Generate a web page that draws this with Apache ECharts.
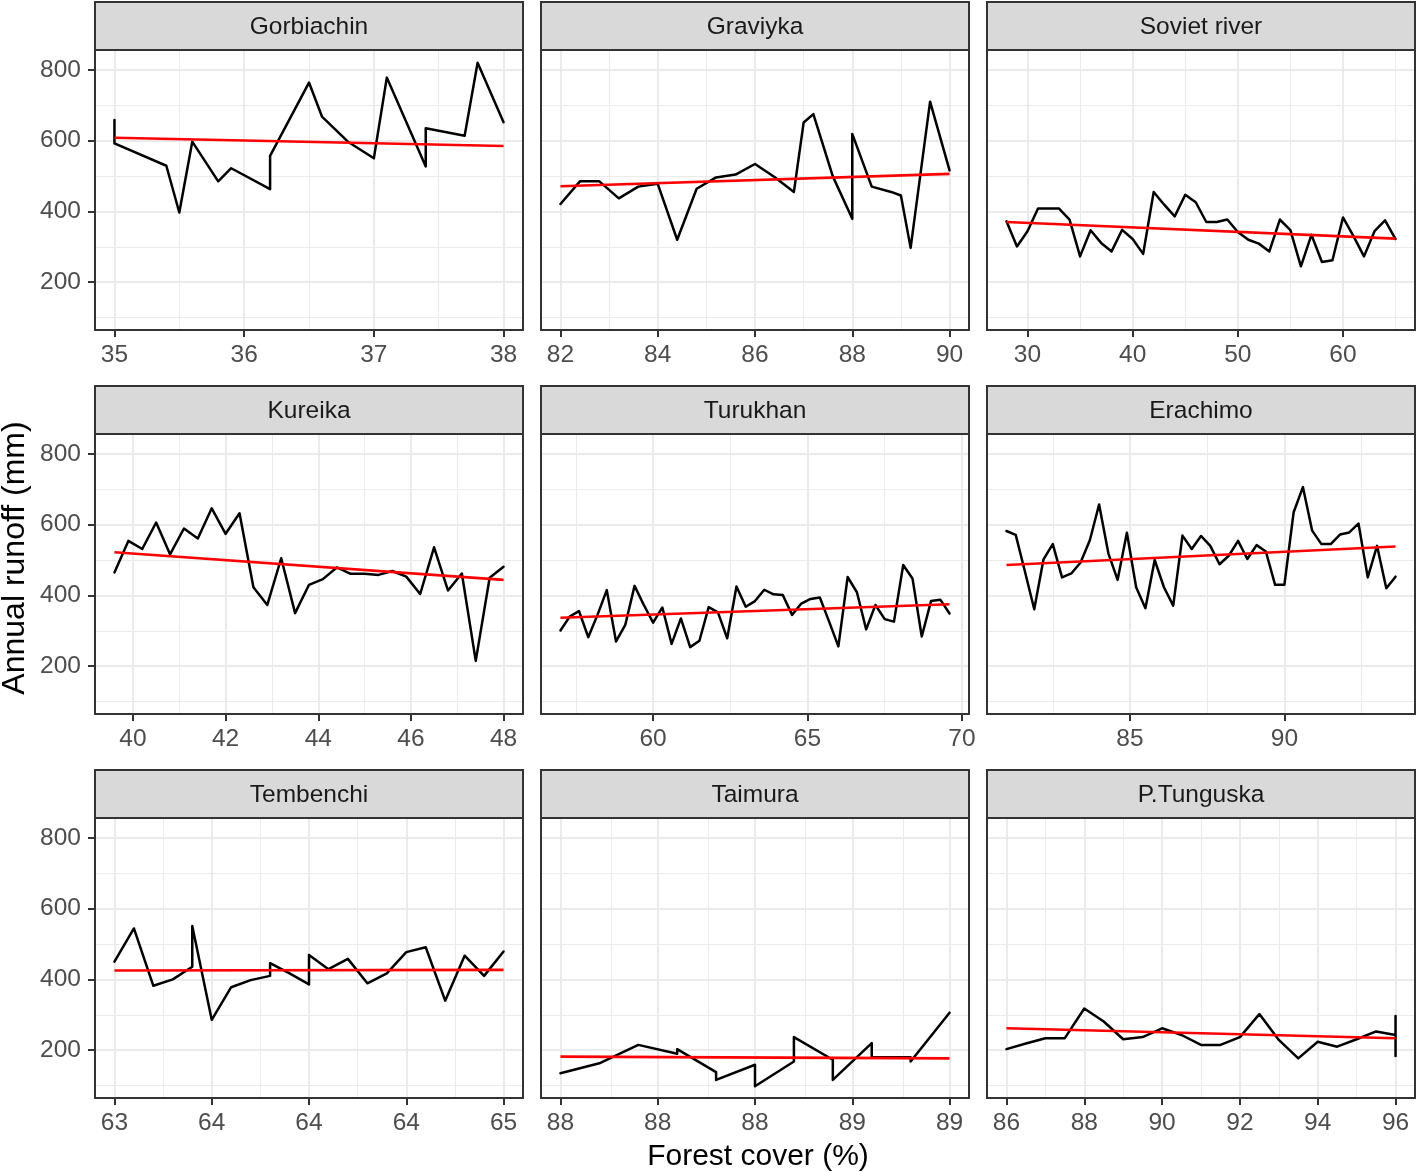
<!DOCTYPE html>
<html>
<head>
<meta charset="utf-8">
<script src="https://cdn.jsdelivr.net/npm/echarts@6/dist/echarts.min.js"></script>
<style>
html,body{margin:0;padding:0;background:#ffffff;}
#chart{width:1418px;height:1172px;}
</style>
</head>
<body>
<div id="chart"></div>
<script>
// ---------- DATA ----------
const panelNames = ["Gorbiachin", "Graviyka", "Soviet river", "Kureika", "Turukhan", "Erachimo", "Tembenchi", "Taimura", "P.Tunguska"];

const gorbiachinX = [35, 35, 35.4, 35.5, 35.6, 35.8, 35.9, 36.2, 36.2, 36.5, 36.6, 36.8, 37.0, 37.1, 37.4, 37.4, 37.7, 37.8, 38.0];
const gorbiachinY = [658, 592, 529, 397, 597, 485, 522, 463, 557, 764, 668, 597, 550, 778, 527, 635, 614, 820, 652];

const graviykaX = [82.0, 82.4, 82.8, 83.2, 83.6, 84.0, 84.4, 84.8, 85.2, 85.6, 86.0, 86.4, 86.8, 87.0, 87.2, 87.6, 88.0, 88.0, 88.4, 88.8, 89.0, 89.2, 89.6, 90.0];
const graviykaY = [421, 485, 485, 437, 470, 478, 320, 464, 496, 504, 534, 497, 455, 651, 675, 499, 379, 619, 470, 455, 445, 297, 710, 516];

const sovietX = [28, 29, 30, 31, 32, 33, 34, 35, 36, 37, 38, 39, 40, 41, 42, 43, 44, 45, 46, 47, 48, 49, 50, 51, 52, 53, 54, 55, 56, 57, 58, 59, 60, 61, 62, 63, 64, 65];
const sovietY = [372, 301, 344, 408, 408, 408, 377, 273, 347, 311, 287, 348, 322, 280, 455, 419, 386, 447, 426, 370, 370, 377, 342, 320, 309, 287, 377, 347, 245, 334, 257, 262, 383, 330, 273, 344, 375, 322];

const kureikaX = [39.6, 39.9, 40.2, 40.5, 40.8, 41.1, 41.4, 41.7, 42.0, 42.3, 42.6, 42.9, 43.2, 43.5, 43.8, 44.1, 44.4, 44.7, 45.0, 45.3, 45.6, 45.9, 46.2, 46.5, 46.8, 47.1, 47.4, 47.7, 48.0];
const kureikaY = [465, 554, 531, 606, 516, 589, 561, 646, 574, 632, 423, 373, 505, 350, 430, 446, 479, 461, 461, 458, 469, 453, 404, 536, 414, 462, 215, 450, 481];

const turukhanX = [57.0, 57.3, 57.6, 57.9, 58.2, 58.5, 58.8, 59.1, 59.4, 59.7, 60.0, 60.3, 60.6, 60.9, 61.2, 61.5, 61.8, 62.1, 62.4, 62.7, 63.0, 63.3, 63.6, 63.9, 64.2, 64.5, 64.8, 65.1, 65.4, 65.7, 66.0, 66.3, 66.6, 66.9, 67.2, 67.5, 67.8, 68.1, 68.4, 68.7, 69.0, 69.3, 69.6];
const turukhanY = [301, 340, 356, 282, 345, 415, 270, 317, 427, 373, 323, 366, 263, 335, 254, 272, 367, 352, 279, 425, 368, 384, 416, 403, 401, 345, 377, 390, 394, 326, 256, 452, 409, 304, 373, 333, 326, 486, 448, 284, 384, 388, 349];

const erachimoX = [81.0, 81.3, 81.6, 81.9, 82.2, 82.5, 82.8, 83.1, 83.4, 83.7, 84.0, 84.3, 84.6, 84.9, 85.2, 85.5, 85.8, 86.1, 86.4, 86.7, 87.0, 87.3, 87.6, 87.9, 88.2, 88.5, 88.8, 89.1, 89.4, 89.7, 90.0, 90.3, 90.6, 90.9, 91.2, 91.5, 91.8, 92.1, 92.4, 92.7, 93.0, 93.3, 93.6];
const erachimoY = [582, 571, 467, 361, 502, 545, 451, 462, 493, 556, 657, 519, 444, 577, 423, 364, 500, 423, 371, 569, 531, 568, 540, 488, 512, 554, 503, 542, 524, 430, 430, 635, 706, 583, 545, 545, 572, 578, 603, 451, 540, 420, 453];

const tembenchiX = [63.0, 63.1, 63.2, 63.3, 63.4, 63.4, 63.5, 63.6, 63.7, 63.8, 63.8, 63.9, 64.0, 64.0, 64.1, 64.2, 64.3, 64.4, 64.5, 64.6, 64.7, 64.8, 64.9, 65.0];
const tembenchiY = [450, 544, 382, 400, 436, 551, 286, 378, 398, 410, 446, 417, 386, 469, 429, 458, 389, 417, 477, 491, 340, 467, 410, 479];

const taimuraX = [88.0, 88.1, 88.2, 88.3, 88.3, 88.4, 88.4, 88.5, 88.5, 88.6, 88.6, 88.7, 88.7, 88.8, 88.8, 88.9, 88.9, 89.0];
const taimuraY = [135, 163, 215, 190, 203, 138, 116, 159, 98, 168, 237, 173, 116, 220, 180, 180, 168, 306];

const tunguskaX = [86.0, 86.5, 87.0, 87.5, 88.0, 88.5, 89.0, 89.5, 90.0, 90.5, 91.0, 91.5, 92.0, 92.5, 93.0, 93.5, 94.0, 94.5, 95.0, 95.5, 96.0, 96.0, 96.0];
const tunguskaY = [203, 219, 234, 234, 318, 281, 231, 237, 262, 243, 215, 215, 237, 302, 229, 177, 224, 210, 231, 253, 243, 297, 184];

// linear-fit (red) line values at the first and last forest-cover value of each panel
const trendStart = [608, 471, 370, 522, 337, 486, 425, 182, 262];
const trendEnd   = [585, 506, 323, 444, 375, 538, 427, 177, 234];

// x tick values / labels / minor grid per panel
const gorbiachinTicks = [35, 36, 37, 38];           const gorbiachinTickLabels = ["35", "36", "37", "38"];
const graviykaTicks = [82, 84, 86, 88, 90];          const graviykaTickLabels = ["82", "84", "86", "88", "90"];
const sovietTicks = [30, 40, 50, 60];                const sovietTickLabels = ["30", "40", "50", "60"];
const kureikaTicks = [40, 42, 44, 46, 48];           const kureikaTickLabels = ["40", "42", "44", "46", "48"];
const turukhanTicks = [60, 65, 70];                  const turukhanTickLabels = ["60", "65", "70"];
const erachimoTicks = [85, 90];                      const erachimoTickLabels = ["85", "90"];
const tembenchiTicks = [63, 63.5, 64, 64.5, 65];     const tembenchiTickLabels = ["63", "64", "64", "64", "65"];
const taimuraTicks = [88, 88.25, 88.5, 88.75, 89];   const taimuraTickLabels = ["88", "88", "88", "89", "89"];
const tunguskaTicks = [86, 88, 90, 92, 94, 96];      const tunguskaTickLabels = ["86", "88", "90", "92", "94", "96"];

const gorbiachinMinor = [35.5, 36.5, 37.5];
const graviykaMinor = [83, 85, 87, 89];
const sovietMinor = [35, 45, 55, 65];
const kureikaMinor = [41, 43, 45, 47];
const turukhanMinor = [57.5, 62.5, 67.5];
const erachimoMinor = [82.5, 87.5, 92.5];
const tembenchiMinor = [63.25, 63.75, 64.25, 64.75];
const taimuraMinor = [88.125, 88.375, 88.625, 88.875];
const tunguskaMinor = [87, 89, 91, 93, 95];

const yTicks = [200, 400, 600, 800];
const yTickLabels = ["200", "400", "600", "800"];
const yMinor = [100, 300, 500, 700];

// ---------- LAYOUT ----------
const colLeft = [95, 541, 987];
const rowTop = [50, 434, 818];
const W = 428, H = 280, stripH = 48;
const Y_MIN = 65, Y_MAX = 856;
const FONT = '"Liberation Sans", Arial, Helvetica, sans-serif';

const panels = [
  {x: gorbiachinX, y: gorbiachinY, t: gorbiachinTicks, l: gorbiachinTickLabels, m: gorbiachinMinor},
  {x: graviykaX, y: graviykaY, t: graviykaTicks, l: graviykaTickLabels, m: graviykaMinor},
  {x: sovietX, y: sovietY, t: sovietTicks, l: sovietTickLabels, m: sovietMinor},
  {x: kureikaX, y: kureikaY, t: kureikaTicks, l: kureikaTickLabels, m: kureikaMinor},
  {x: turukhanX, y: turukhanY, t: turukhanTicks, l: turukhanTickLabels, m: turukhanMinor},
  {x: erachimoX, y: erachimoY, t: erachimoTicks, l: erachimoTickLabels, m: erachimoMinor},
  {x: tembenchiX, y: tembenchiY, t: tembenchiTicks, l: tembenchiTickLabels, m: tembenchiMinor},
  {x: taimuraX, y: taimuraY, t: taimuraTicks, l: taimuraTickLabels, m: taimuraMinor},
  {x: tunguskaX, y: tunguskaY, t: tunguskaTicks, l: tunguskaTickLabels, m: tunguskaMinor}
];

const grids = [], xAxes = [], yAxes = [], series = [], graphics = [];
const GRID_COLOR = '#ebebeb';

panels.forEach((p, i) => {
  const r = Math.floor(i / 3), c = i % 3;
  const left = colLeft[c], top = rowTop[r];
  grids.push({left: left, top: top, width: W, height: H, show: false});

  const xmin = Math.min(...p.x), xmax = Math.max(...p.x);
  const pad = (xmax - xmin) * 0.05;
  xAxes.push({
    type: 'value', gridIndex: i, min: xmin - pad, max: xmax + pad,
    axisLine: {show: false}, splitLine: {show: false}, minorSplitLine: {show: false},
    axisTick: {show: true, customValues: p.t, length: 7, lineStyle: {color: '#333333', width: 2}},
    axisLabel: {
      show: true, customValues: p.t, margin: 13, color: '#4d4d4d', fontSize: 24.5, fontFamily: FONT,
      hideOverlap: false, showMinLabel: true, showMaxLabel: true,
      formatter: function (v) {
        const k = p.t.findIndex(t => Math.abs(t - v) < 1e-7);
        return k >= 0 ? p.l[k] : '';
      }
    }
  });
  yAxes.push({
    type: 'value', gridIndex: i, min: Y_MIN, max: Y_MAX,
    axisLine: {show: false}, splitLine: {show: false},
    axisTick: {show: c === 0, customValues: yTicks, length: 7, lineStyle: {color: '#333333', width: 2}},
    axisLabel: {
      show: c === 0, customValues: yTicks, margin: 14, color: '#4d4d4d', fontSize: 24.5, fontFamily: FONT,
      hideOverlap: false, showMinLabel: true, showMaxLabel: true,
      formatter: function (v) {
        const k = yTicks.findIndex(t => Math.abs(t - v) < 1e-7);
        return k >= 0 ? yTickLabels[k] : '';
      }
    }
  });

  const gl = [];
  p.m.forEach(v => gl.push({xAxis: v, lineStyle: {color: GRID_COLOR, width: 1, type: 'solid'}}));
  yMinor.forEach(v => gl.push({yAxis: v, lineStyle: {color: GRID_COLOR, width: 1, type: 'solid'}}));
  p.t.forEach(v => gl.push({xAxis: v, lineStyle: {color: GRID_COLOR, width: 2, type: 'solid'}}));
  yTicks.forEach(v => gl.push({yAxis: v, lineStyle: {color: GRID_COLOR, width: 2, type: 'solid'}}));

  series.push({
    type: 'line', xAxisIndex: i, yAxisIndex: i, data: [], silent: true, z: 1, symbol: 'none',
    markLine: {
      silent: true, z: 1, symbol: ['none', 'none'], animation: false,
      label: {show: false}, emphasis: {disabled: true}, data: gl
    }
  });
  series.push({
    type: 'line', xAxisIndex: i, yAxisIndex: i, z: 3, symbol: 'none', showSymbol: false, silent: true,
    data: p.x.map((xv, k) => [xv, p.y[k]]),
    lineStyle: {color: '#000000', width: 2.5, cap: 'round', join: 'round'}
  });
  series.push({
    type: 'line', xAxisIndex: i, yAxisIndex: i, z: 4, symbol: 'none', showSymbol: false, silent: true,
    data: [[xmin, trendStart[i]], [xmax, trendEnd[i]]],
    lineStyle: {color: '#ff0000', width: 2.6}
  });

  // panel border + strip
  graphics.push({type: 'rect', silent: true, z: 100,
    shape: {x: left, y: top, width: W, height: H},
    style: {fill: 'none', stroke: '#333333', lineWidth: 2}});
  graphics.push({type: 'rect', silent: true, z: 100,
    shape: {x: left, y: top - stripH, width: W, height: stripH},
    style: {fill: '#d9d9d9', stroke: '#333333', lineWidth: 2}});
  graphics.push({type: 'text', silent: true, z: 101,
    x: left + W / 2, y: top - stripH / 2 + 1,
    style: {text: panelNames[i], fill: '#1a1a1a', font: '24.5px ' + FONT, align: 'center', verticalAlign: 'middle'}});
});

graphics.push({type: 'text', silent: true, z: 101, x: 758, y: 1157,
  style: {text: 'Forest cover (%)', fill: '#000000', font: '30px ' + FONT, align: 'center', verticalAlign: 'middle'}});
graphics.push({type: 'text', silent: true, z: 101, x: 15, y: 558, rotation: Math.PI / 2,
  style: {text: 'Annual runoff (mm)', fill: '#000000', font: '32px ' + FONT, align: 'center', verticalAlign: 'middle'}});

const chart = echarts.init(document.getElementById('chart'), null, {renderer: 'canvas'});
chart.setOption({
  animation: false,
  backgroundColor: '#ffffff',
  grid: grids,
  xAxis: xAxes,
  yAxis: yAxes,
  series: series,
  graphic: graphics
});
</script>
</body>
</html>
